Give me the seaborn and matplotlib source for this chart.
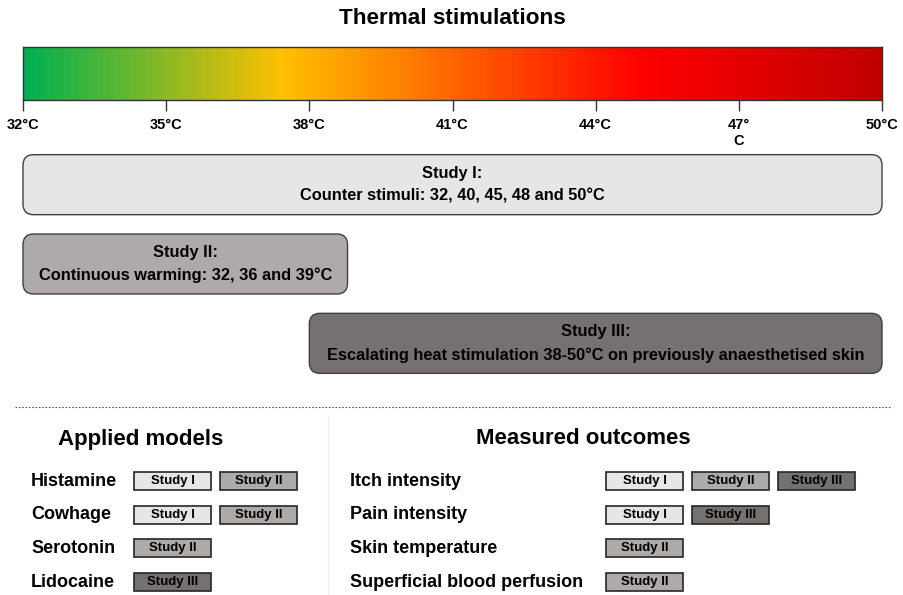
import numpy as np
import matplotlib
matplotlib.use("Agg")
import matplotlib.pyplot as plt
import seaborn as sns
from matplotlib.colors import LinearSegmentedColormap
from matplotlib.patches import FancyBboxPatch
from matplotlib.lines import Line2D

# temperature scale
t_min, t_max = 32, 50
tick_temps = [32, 35, 38, 41, 44, 47, 50]
tick_labels = ["32°C", "35°C", "38°C", "41°C", "44°C", "47°\nC", "50°C"]

# gradient stops (position on the scale 0..1, colour)
grad_pos = [0.0, 0.30, 0.72, 1.0]
grad_cols = ["#00B050", "#FFC000", "#FF0000", "#C00000"]

# studies and their temperature ranges
studies = ["Study I", "Study II", "Study III"]
study_start = [32, 32, 38]
study_end = [50, 38.8, 50]
study_text = ["Study I:\nCounter stimuli: 32, 40, 45, 48 and 50°C",
              "Study II:\nContinuous warming: 32, 36 and 39°C",
              "Study III:\nEscalating heat stimulation 38-50°C on previously anaesthetised skin"]
study_fill = ["#E7E6E6", "#AEAAAA", "#767171"]

models = ["Histamine", "Cowhage", "Serotonin", "Lidocaine"]
model_studies = [["Study I", "Study II"], ["Study I", "Study II"], ["Study II"], ["Study III"]]

outcomes = ["Itch intensity", "Pain intensity", "Skin temperature", "Superficial blood perfusion"]
outcome_studies = [["Study I", "Study II", "Study III"], ["Study I", "Study III"],
                   ["Study II"], ["Study II"]]

sns.set_style("white")
plt.rcParams['font.family'] = ['Liberation Sans Narrow', 'Liberation Sans', 'DejaVu Sans']
plt.rcParams['font.weight'] = 'bold'
plt.rcParams['text.color'] = 'black'
plt.rcParams['xtick.color'] = 'black'

W, H = 904, 595
fig = plt.figure(figsize=(W / 100, H / 100), dpi=100)


def fbox(x0, y0, x1, y1):
    """pixel box -> figure fraction rect"""
    return [x0 / W, 1 - y1 / H, (x1 - x0) / W, (y1 - y0) / H]


# title
fig.text(452 / W, 1 - 19 / H, "Thermal stimulations", ha="center", va="center",
         fontsize=16.2, fontweight="bold")

# colour bar
N = 360
cmap = LinearSegmentedColormap.from_list("thermal", list(zip(grad_pos, grad_cols)))
grad = np.linspace(t_min, t_max, N).reshape(1, -1)
ax_bar = fig.add_axes(fbox(23, 47, 882, 100))
sns.heatmap(grad, cmap=cmap, vmin=t_min, vmax=t_max, cbar=False,
            xticklabels=False, yticklabels=False, ax=ax_bar)
for sp in ax_bar.spines.values():
    sp.set_visible(True)
    sp.set_color("#333333")
    sp.set_linewidth(1)
ax_bar.set_xticks([(t - t_min) / (t_max - t_min) * N for t in tick_temps])
ax_bar.set_xticklabels(tick_labels, fontsize=10.5, fontweight="bold")
ax_bar.tick_params(axis="x", bottom=True, length=8, width=1, color="#333333",
                   labelcolor="black", pad=5)
ax_bar.set_yticks([])

# study boxes along the temperature axis
ax_st = fig.add_axes(fbox(23, 145, 882, 383))
ax_st.set_xlim(t_min, t_max)
ax_st.set_ylim(len(studies), 0)
ax_st.axis("off")
px_x = 859 / (t_max - t_min)
px_y = 238 / len(studies)
box_h = 60 / px_y
for i, name in enumerate(studies):
    y0 = i + 0.5 - box_h / 2
    patch = FancyBboxPatch((study_start[i], y0), study_end[i] - study_start[i], box_h,
                           boxstyle="round,pad=0,rounding_size=0.22",
                           mutation_aspect=px_x / px_y,
                           facecolor=study_fill[i], edgecolor="#404040", linewidth=1,
                           clip_on=False)
    ax_st.add_patch(patch)
    ax_st.text((study_start[i] + study_end[i]) / 2, i + 0.5, study_text[i],
               ha="center", va="center", fontsize=11.8, fontweight="bold",
               linespacing=1.65)

# separators
fig.add_artist(Line2D([15 / W, 890 / W], [1 - 407 / H] * 2, color="#555555",
                      lw=0.8, ls=(0, (1.5, 1.5))))
fig.add_artist(Line2D([328 / W, 328 / W], [1 - 415 / H, 0], color="#EFEFEF", lw=1))

# headings
fig.text(141 / W, 1 - 439 / H, "Applied models", ha="center", va="center",
         fontsize=16, fontweight="bold")
fig.text(583 / W, 1 - 439 / H, "Measured outcomes", ha="center", va="center",
         fontsize=16, fontweight="bold")

fill_of = dict(zip(studies, study_fill))


def table(rect, rows, row_studies, label_off, ncol):
    ax = fig.add_axes(rect)
    ax.set_xlim(0, ncol)
    ax.set_ylim(len(rows), 0)
    ax.axis("off")
    for r, (lab, sts) in enumerate(zip(rows, row_studies)):
        ax.text(label_off, r + 0.5, lab, ha="left", va="center", fontsize=13,
                fontweight="bold")
        for c, s in enumerate(sts):
            ax.bar(c, 0.53, bottom=r + 0.5 - 0.265, width=0.895, align="edge",
                   color=fill_of[s], edgecolor="#262626", linewidth=1.2, clip_on=False)
            ax.text(c + 0.895 / 2, r + 0.5, s, ha="center", va="center", fontsize=9.5,
                    fontweight="bold")
    return ax


pitch = 86
row_h = 33.67
top = 481 - row_h / 2
table(fbox(134, top, 134 + 2 * pitch, top + 4 * row_h), models, model_studies,
      (31 - 134) / pitch, 2)
table(fbox(606, top, 606 + 3 * pitch, top + 4 * row_h), outcomes, outcome_studies,
      (350 - 606) / pitch, 3)

fig.savefig("out.png", dpi=100)
